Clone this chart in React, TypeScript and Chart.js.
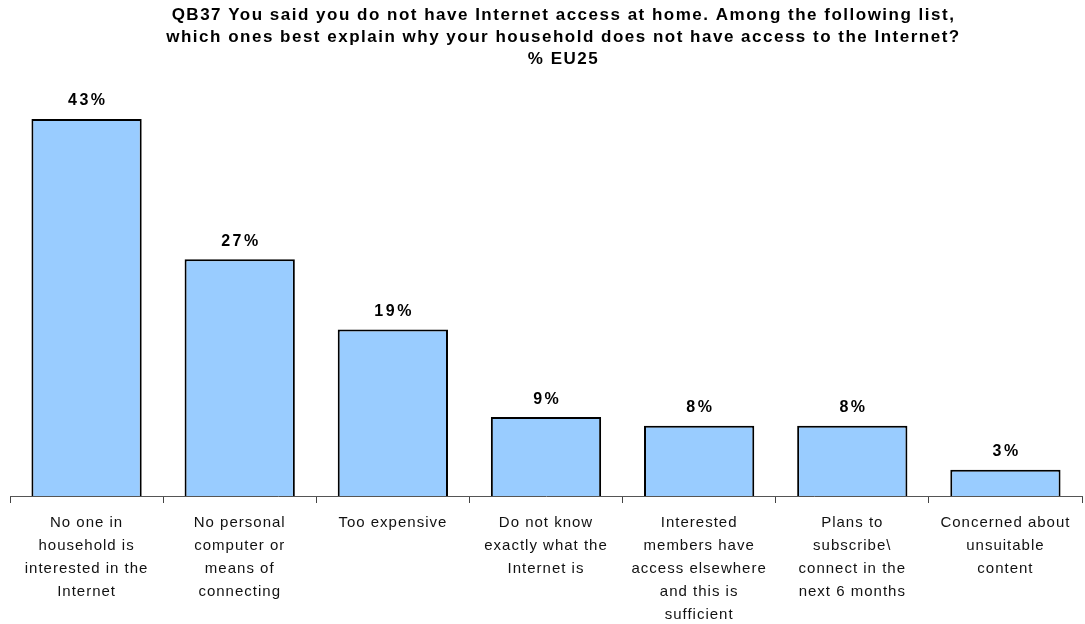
import React, { useEffect, useRef } from 'react';
import { Chart, registerables } from 'chart.js';

Chart.register(...registerables);

const titleLines: string[] = [
  'QB37 You said you do not have Internet access at home. Among the following list,',
  'which ones best explain why your household does not have access to the Internet?',
  '% EU25',
];

const categories: string[][] = [
  ['No one in', 'household is', 'interested in the', 'Internet'],
  ['No personal', 'computer or', 'means of', 'connecting'],
  ['Too expensive'],
  ['Do not know', 'exactly what the', 'Internet is'],
  ['Interested', 'members have', 'access elsewhere', 'and this is', 'sufficient'],
  ['Plans to', 'subscribe\\', 'connect in the', 'next 6 months'],
  ['Concerned about', 'unsuitable', 'content'],
];

const values: number[] = [43, 27, 19, 9, 8, 8, 3];

const FONT = '"Liberation Sans", Arial, Helvetica, sans-serif';

export default function App() {
  const ref = useRef<HTMLCanvasElement>(null);

  useEffect(() => {
    if (!ref.current) return;

    const spacingPlugin = {
      id: 'spacing',
      beforeInit(chart: any) {
        chart.ctx.letterSpacing = '1px';
      },
      beforeDraw(chart: any) {
        chart.ctx.letterSpacing = '1px';
      },
    };

    const titlePlugin = {
      id: 'customTitle',
      afterDraw(chart: any) {
        const ctx = chart.ctx;
        ctx.save();
        ctx.font = `bold 17px ${FONT}`;
        ctx.letterSpacing = '1.5px';
        ctx.fillStyle = '#000';
        ctx.textAlign = 'center';
        ctx.textBaseline = 'middle';
        titleLines.forEach((line, i) => {
          ctx.fillText(line, 563.5, 15 + i * 22);
        });
        ctx.restore();
      },
    };

    const dataLabels = {
      id: 'dataLabels',
      afterDatasetsDraw(chart: any) {
        const ctx = chart.ctx;
        const meta = chart.getDatasetMeta(0);
        ctx.save();
        ctx.font = `bold 16px ${FONT}`;
        ctx.letterSpacing = '2.5px';
        ctx.fillStyle = '#000';
        ctx.textAlign = 'center';
        ctx.textBaseline = 'middle';
        meta.data.forEach((bar: any, i: number) => {
          ctx.fillText(values[i] + '%', bar.x + 1.25, bar.y - 18);
        });
        ctx.restore();
      },
    };

    const chart = new Chart(ref.current, {
      type: 'bar',
      data: {
        labels: categories,
        datasets: [
          {
            data: values,
            backgroundColor: '#99CCFF',
            borderColor: '#000',
            borderWidth: 2,
            barPercentage: 0.72,
            categoryPercentage: 1,
          },
        ],
      },
      options: {
        animation: false,
        responsive: false,
        maintainAspectRatio: false,
        layout: { padding: { left: 10, right: 3, top: 101.5, bottom: 0 } },
        plugins: {
          legend: { display: false },
          tooltip: { enabled: false },
          title: { display: false },
        },
        scales: {
          x: {
            grid: { offset: true, drawOnChartArea: false, tickLength: 7, color: '#444' },
            border: { color: '#555', width: 1 },
            ticks: {
              color: '#111',
              font: { family: FONT, size: 15, lineHeight: 23 / 15 },
              padding: 8,
              maxRotation: 0,
              minRotation: 0,
              autoSkip: false,
            },
            afterFit(scale: any) {
              scale.height = 128;
            },
          },
          y: { display: false, min: 0, max: 45 },
        },
      },
      plugins: [spacingPlugin, dataLabels, titlePlugin],
    } as any);

    return () => chart.destroy();
  }, []);

  return (
    <div style={{ position: 'absolute', left: 0, top: 0, width: 1085, height: 624, background: '#fff' }}>
      <canvas ref={ref} width={1085} height={624} style={{ display: 'block' }} />
    </div>
  );
}
